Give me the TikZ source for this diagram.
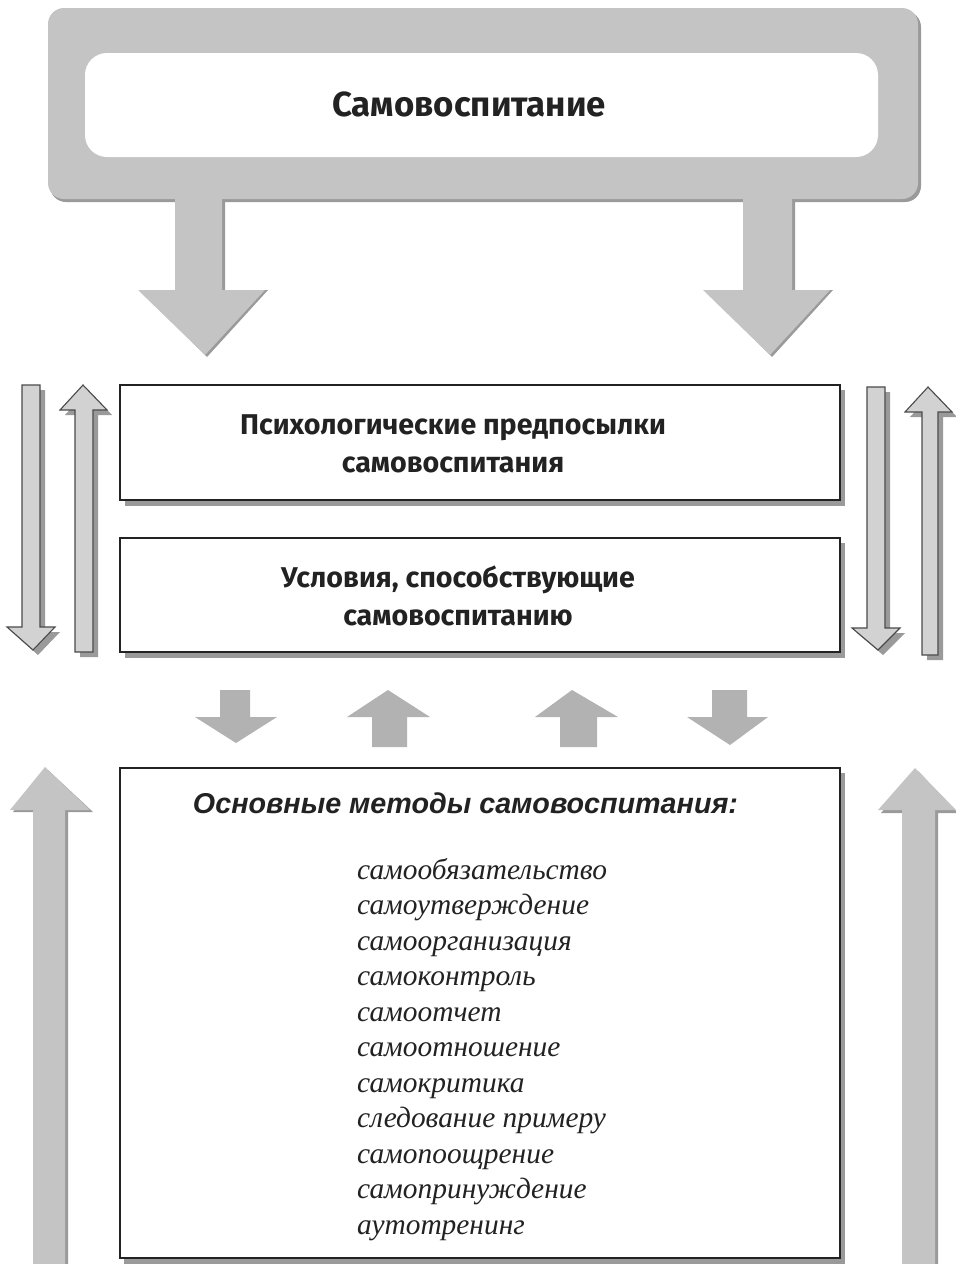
\documentclass[tikz,border=0pt]{standalone}
\usepackage{fontspec}
\setmainfont{Liberation Serif}
\newfontfamily\hdfont{Fira Sans}
\newfontfamily\arialfont{Liberation Sans}
\definecolor{agray}{HTML}{C4C4C4}
\definecolor{ashadow}{HTML}{9A9A9A}
\definecolor{tgray}{HTML}{D2D2D2}
\definecolor{tline}{HTML}{4A4A4A}
\definecolor{sgray}{HTML}{B2B2B2}
\definecolor{txt}{HTML}{222222}
\tikzset{
  bigarrow/.style={fill=agray, draw=none},
  arrowshadow/.style={fill=ashadow, draw=none},
  thinarrow/.style={fill=tgray, draw=tline, line width=1.1pt, line join=miter},
  smallarrow/.style={fill=sgray, draw=none},
  mbox/.style={draw=txt, line width=1.3pt, fill=white, minimum width=720pt, inner sep=0pt},
  boxshadow/.style={fill=ashadow, draw=none},
  hdtext/.style={font=\hdfont\bfseries\fontsize{28.6}{38}\selectfont, text=txt, align=center},
  listtext/.style={font=\itshape\fontsize{29.4}{35.5}\selectfont, text=txt, align=left, anchor=north west, inner sep=0pt}
}
\begin{document}
\begin{tikzpicture}[x=1pt,y=-1pt]
\useasboundingbox (0,0) rectangle (956,1264);
% top frame
\fill[ashadow, rounded corners=16pt] (50,11) rectangle (921,202);
\fill[agray, rounded corners=16pt] (48,8) rectangle (918,199);
\fill[white, rounded corners=22pt] (85,53) rectangle (878,157);
\node[font=\hdfont\bfseries\fontsize{34.8}{40}\selectfont, text=txt] (title) at (469,104) {Самовоспитание};
% big down arrows
\fill[arrowshadow] (178,199) -- (225,199) -- (225,290) -- (268,290) -- (207,357) -- (141,290) -- (178,290) -- cycle;
\fill[bigarrow] (175,199) -- (222,199) -- (222,290) -- (265,290) -- (205,355) -- (138,290) -- (175,290) -- cycle;
\fill[arrowshadow] (746,199) -- (795,199) -- (795,290) -- (833,290) -- (772,357) -- (706,290) -- (746,290) -- cycle;
\fill[bigarrow] (743,199) -- (792,199) -- (792,290) -- (830,290) -- (770,355) -- (703,290) -- (743,290) -- cycle;
% boxes
\fill[boxshadow] (125,390) rectangle (845,506);
\node[mbox, minimum height=115pt] (b1) at (480,442.5) {};
\node[hdtext] (t1) at (453,444) {Психологические предпосылки\\самовоспитания};
\fill[boxshadow] (125,543) rectangle (845,658);
\node[mbox, minimum height=114pt] (b2) at (480,595) {};
\node[hdtext] (t2) at (458,596) {Условия, способствующие\\самовоспитанию};
% thin arrows left
\fill[arrowshadow] (27,390) -- (45,390) -- (45,632) -- (60,632) -- (38,655) -- (12,632) -- (27,632) -- cycle;
\draw[thinarrow] (22,385) -- (40,385) -- (40,627) -- (55,627) -- (33,650) -- (7,627) -- (22,627) -- cycle;
\fill[arrowshadow] (88,390) -- (112,415) -- (98,415) -- (98,657) -- (80,657) -- (80,415) -- (65,415) -- cycle;
\draw[thinarrow] (83,385) -- (107,410) -- (93,410) -- (93,652) -- (75,652) -- (75,410) -- (60,410) -- cycle;
% thin arrows right
\fill[arrowshadow] (872,392) -- (890,392) -- (890,633) -- (905,633) -- (883,655) -- (857,633) -- (872,633) -- cycle;
\draw[thinarrow] (867,387) -- (885,387) -- (885,628) -- (900,628) -- (878,650) -- (852,628) -- (867,628) -- cycle;
\fill[arrowshadow] (933,392) -- (957,417) -- (943,417) -- (943,660) -- (927,660) -- (927,417) -- (910,417) -- cycle;
\draw[thinarrow] (928,387) -- (952,412) -- (938,412) -- (938,655) -- (922,655) -- (922,412) -- (905,412) -- cycle;
% small arrows
\fill[smallarrow] (220,690) -- (250,690) -- (250,717) -- (277,717) -- (236,743) -- (195,717) -- (220,717) -- cycle;
\fill[smallarrow] (388,690) -- (430,717) -- (407,717) -- (407,747) -- (372,747) -- (372,717) -- (347,717) -- cycle;
\fill[smallarrow] (572,690) -- (618,717) -- (597,717) -- (597,747) -- (560,747) -- (560,717) -- (535,717) -- cycle;
\fill[smallarrow] (712,690) -- (747,690) -- (747,717) -- (768,717) -- (730,745) -- (687,717) -- (712,717) -- cycle;
% bottom box
\fill[boxshadow] (124,773) rectangle (845,1264);
\node[mbox, minimum height=490pt] (b3) at (480,1013) {};
\node[font=\arialfont\bfseries\itshape\fontsize{28.7}{32}\selectfont, text=txt] (t3) at (465.5,803) {Основные методы самовоспитания:};
\node[listtext] (list) at (357,858) {самообязательство\\самоутверждение\\самоорганизация\\самоконтроль\\самоотчет\\самоотношение\\самокритика\\следование примеру\\самопоощрение\\самопринуждение\\аутотренинг};
% big up arrows
\fill[arrowshadow] (48,770) -- (93,812) -- (68,812) -- (68,1264) -- (36,1264) -- (36,812) -- (13,812) -- cycle;
\fill[bigarrow] (45,767) -- (90,810) -- (65,810) -- (65,1264) -- (33,1264) -- (33,810) -- (10,810) -- cycle;
\fill[arrowshadow] (918,771) -- (958,813) -- (938,813) -- (938,1264) -- (905,1264) -- (905,813) -- (881,813) -- cycle;
\fill[bigarrow] (915,768) -- (956,810) -- (935,810) -- (935,1264) -- (902,1264) -- (902,810) -- (878,810) -- cycle;
\end{tikzpicture}
\end{document}
